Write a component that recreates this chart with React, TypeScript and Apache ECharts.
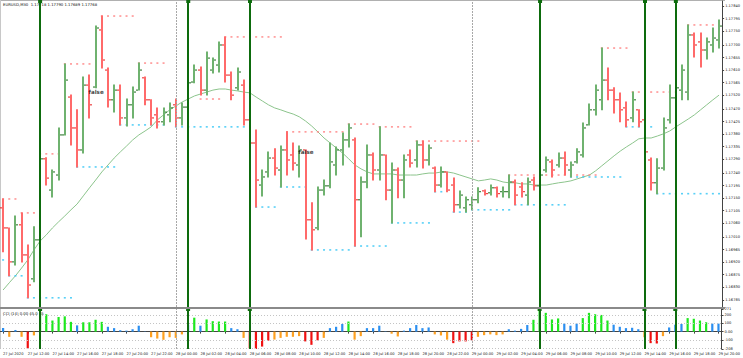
import React, { useEffect, useRef } from "react";
import * as echarts from "echarts";

// ---- data ----
const timeLabels = [
  "27 Jul 2020", "27 Jul 12:00", "27 Jul 14:00", "27 Jul 16:00", "27 Jul 18:00", "27 Jul 20:00", "27 Jul 22:00",
  "28 Jul 00:00", "28 Jul 02:00", "28 Jul 04:00", "28 Jul 06:00", "28 Jul 08:00", "28 Jul 10:00", "28 Jul 12:00",
  "28 Jul 14:00", "28 Jul 16:00", "28 Jul 18:00", "28 Jul 20:00", "28 Jul 22:00", "29 Jul 00:00", "29 Jul 02:00",
  "29 Jul 04:00", "29 Jul 06:00", "29 Jul 08:00", "29 Jul 10:00", "29 Jul 12:00", "29 Jul 14:00", "29 Jul 16:00",
  "29 Jul 18:00", "29 Jul 20:00",
];
const barsPerLabel = 4;

const open = [
  1.17115, 1.17043, 1.16921, 1.17054, 1.16946, 1.16860, 1.17000, 1.17291, 1.17179, 1.17233,
  1.17377, 1.17513, 1.17402, 1.17323, 1.17556, 1.17549, 1.17754, 1.17610, 1.17503, 1.17538,
  1.17438, 1.17485, 1.17538, 1.17582, 1.17503, 1.17449, 1.17424, 1.17449, 1.17485, 1.17438,
  1.17477, 1.17567, 1.17610, 1.17538, 1.17610, 1.17628, 1.17700, 1.17592, 1.17546, 1.17556,
  1.17431, 1.17348, 1.17197, 1.17244, 1.17294, 1.17251, 1.17323, 1.17305, 1.17269, 1.17323,
  1.17072, 1.17043, 1.17179, 1.17194, 1.17269, 1.17323, 1.17359, 1.17359, 1.17144, 1.17208,
  1.17305, 1.17251, 1.17305, 1.17179, 1.17251, 1.17215, 1.17305, 1.17287, 1.17341, 1.17287,
  1.17258, 1.17197, 1.17244, 1.17197, 1.17126, 1.17115, 1.17126, 1.17144, 1.17176, 1.17169,
  1.17187, 1.17173, 1.17173, 1.17208, 1.17190, 1.17161, 1.17215, 1.17194, 1.17251, 1.17280,
  1.17269, 1.17294, 1.17251, 1.17280, 1.17305, 1.17413, 1.17467, 1.17503, 1.17574, 1.17538,
  1.17503, 1.17474, 1.17438, 1.17467, 1.17431, 1.17287, 1.17205, 1.17258, 1.17431, 1.17510,
  1.17538, 1.17531, 1.17736, 1.17711, 1.17682, 1.17700, 1.17718,
];
const high = [
  1.17147, 1.17043, 1.17086, 1.17097, 1.16982, 1.17047, 1.17309, 1.17295, 1.17251, 1.17402,
  1.17632, 1.17520, 1.17467, 1.17585, 1.17592, 1.17768, 1.17804, 1.17617, 1.17556, 1.17556,
  1.17506, 1.17549, 1.17635, 1.17585, 1.17503, 1.17474, 1.17474, 1.17492, 1.17506, 1.17492,
  1.17574, 1.17628, 1.17621, 1.17675, 1.17653, 1.17711, 1.17729, 1.17603, 1.17617, 1.17574,
  1.17438, 1.17395, 1.17251, 1.17316, 1.17327, 1.17337, 1.17388, 1.17348, 1.17337, 1.17323,
  1.17133, 1.17190, 1.17215, 1.17348, 1.17334, 1.17384, 1.17416, 1.17366, 1.17226, 1.17341,
  1.17312, 1.17406, 1.17305, 1.17276, 1.17258, 1.17305, 1.17323, 1.17355, 1.17355, 1.17341,
  1.17262, 1.17262, 1.17244, 1.17222, 1.17176, 1.17154, 1.17154, 1.17187, 1.17179, 1.17197,
  1.17190, 1.17190, 1.17233, 1.17215, 1.17205, 1.17222, 1.17226, 1.17269, 1.17298, 1.17287,
  1.17312, 1.17316, 1.17280, 1.17327, 1.17420, 1.17488, 1.17556, 1.17689, 1.17617, 1.17546,
  1.17528, 1.17495, 1.17531, 1.17467, 1.17438, 1.17294, 1.17291, 1.17438, 1.17556, 1.17574,
  1.17628, 1.17772, 1.17743, 1.17743, 1.17725, 1.17761, 1.17790,
];
const low = [
  1.16957, 1.16871, 1.16910, 1.16921, 1.16792, 1.16850, 1.16982, 1.17197, 1.17154, 1.17215,
  1.17377, 1.17341, 1.17262, 1.17312, 1.17438, 1.17546, 1.17617, 1.17477, 1.17459, 1.17413,
  1.17409, 1.17438, 1.17538, 1.17485, 1.17413, 1.17402, 1.17413, 1.17424, 1.17406, 1.17413,
  1.17459, 1.17564, 1.17520, 1.17520, 1.17599, 1.17603, 1.17567, 1.17503, 1.17538, 1.17413,
  1.17262, 1.17118, 1.17158, 1.17226, 1.17233, 1.17190, 1.17233, 1.17251, 1.17226, 1.17003,
  1.16964, 1.17036, 1.17161, 1.17187, 1.17233, 1.17269, 1.17334, 1.16978, 1.17011, 1.17187,
  1.17215, 1.17215, 1.17144, 1.17061, 1.17151, 1.17151, 1.17262, 1.17262, 1.17258, 1.17269,
  1.17173, 1.17190, 1.17173, 1.17100, 1.17115, 1.17100, 1.17108, 1.17133, 1.17161, 1.17161,
  1.17154, 1.17154, 1.17151, 1.17126, 1.17154, 1.17126, 1.17179, 1.17179, 1.17244, 1.17226,
  1.17262, 1.17233, 1.17226, 1.17276, 1.17298, 1.17413, 1.17449, 1.17467, 1.17503, 1.17456,
  1.17424, 1.17406, 1.17424, 1.17406, 1.17269, 1.17179, 1.17166, 1.17251, 1.17420, 1.17485,
  1.17503, 1.17503, 1.17657, 1.17621, 1.17650, 1.17675, 1.17689,
];
const close = [
  1.17043, 1.16921, 1.17054, 1.16946, 1.16838, 1.17000, 1.17291, 1.17222, 1.17244, 1.17377,
  1.17574, 1.17402, 1.17323, 1.17556, 1.17485, 1.17761, 1.17646, 1.17503, 1.17538, 1.17438,
  1.17485, 1.17531, 1.17610, 1.17503, 1.17438, 1.17424, 1.17459, 1.17474, 1.17438, 1.17477,
  1.17564, 1.17610, 1.17538, 1.17653, 1.17646, 1.17700, 1.17592, 1.17520, 1.17603, 1.17431,
  1.17348, 1.17215, 1.17226, 1.17294, 1.17258, 1.17323, 1.17287, 1.17276, 1.17323, 1.17072,
  1.17036, 1.17179, 1.17194, 1.17280, 1.17323, 1.17359, 1.17402, 1.17144, 1.17208, 1.17305,
  1.17251, 1.17305, 1.17179, 1.17251, 1.17215, 1.17287, 1.17276, 1.17341, 1.17287, 1.17330,
  1.17197, 1.17244, 1.17179, 1.17126, 1.17161, 1.17144, 1.17144, 1.17173, 1.17166, 1.17187,
  1.17166, 1.17173, 1.17208, 1.17161, 1.17173, 1.17208, 1.17194, 1.17233, 1.17287, 1.17251,
  1.17294, 1.17269, 1.17269, 1.17316, 1.17402, 1.17467, 1.17538, 1.17574, 1.17538, 1.17503,
  1.17467, 1.17431, 1.17503, 1.17424, 1.17316, 1.17205, 1.17258, 1.17402, 1.17510, 1.17546,
  1.17610, 1.17736, 1.17700, 1.17682, 1.17711, 1.17725, 1.17768,
];
const movingAverage = [
  1.16820, 1.16846, 1.16871, 1.16899, 1.16928, 1.16964, 1.16996, 1.17018, 1.17043, 1.17065,
  1.17086, 1.17108, 1.17129, 1.17158, 1.17187, 1.17215, 1.17244, 1.17269, 1.17294, 1.17316,
  1.17337, 1.17359, 1.17377, 1.17391, 1.17406, 1.17431, 1.17449, 1.17467, 1.17481, 1.17495,
  1.17506, 1.17517, 1.17524, 1.17531, 1.17538, 1.17542, 1.17542, 1.17538, 1.17535, 1.17531,
  1.17528, 1.17513, 1.17499, 1.17485, 1.17474, 1.17467, 1.17459, 1.17452, 1.17442, 1.17427,
  1.17409, 1.17388, 1.17366, 1.17348, 1.17330, 1.17312, 1.17291, 1.17269, 1.17255, 1.17244,
  1.17237, 1.17237, 1.17237, 1.17237, 1.17233, 1.17233, 1.17233, 1.17233, 1.17237, 1.17240,
  1.17240, 1.17244, 1.17244, 1.17240, 1.17233, 1.17226, 1.17219, 1.17212, 1.17215, 1.17219,
  1.17215, 1.17208, 1.17205, 1.17205, 1.17201, 1.17201, 1.17197, 1.17197, 1.17197, 1.17201,
  1.17205, 1.17208, 1.17212, 1.17219, 1.17226, 1.17233, 1.17248, 1.17266, 1.17284, 1.17302,
  1.17319, 1.17334, 1.17348, 1.17363, 1.17366, 1.17366, 1.17373, 1.17381, 1.17391, 1.17406,
  1.17420, 1.17434, 1.17449, 1.17467, 1.17485, 1.17503, 1.17520,
];
const cci = [
  42, -62, 20, -62, -200, -45, 216, 208, 133, 175,
  183, 117, 75, 112, 112, 142, 117, 58, 42, 17,
  12, 29, 71, 3, -67, -83, -98, -67, -75, -33,
  83, 167, 71, 146, 125, 121, 121, 42, 29, -75,
  -200, -208, -179, -108, -95, -75, -62, -62, -54, -117,
  -158, -104, -75, 42, 58, 92, 121, -96, -54, 42,
  42, 71, 4, -25, -58, 12, 42, 79, 42, 50,
  -33, -46, -96, -138, -117, -117, -104, -62, -42, -33,
  -42, -33, 29, 12, 33, 79, 142, 271, 225, 146,
  158, 96, 71, 96, 162, 225, 208, 200, 133, 83,
  58, 42, 46, 29, -67, -138, -142, -54, 50, 83,
  92, 162, 154, 133, 112, 96, 96,
];
const priceTicks = [
  1.16785, 1.16830, 1.16875, 1.16920, 1.16965, 1.17010, 1.17060, 1.17105, 1.17150, 1.17195,
  1.17240, 1.17290, 1.17335, 1.17380, 1.17425, 1.17470, 1.17520, 1.17565, 1.17610, 1.17655,
  1.17700, 1.17750, 1.17795, 1.17840,
];
const cciTicks = [-208, -100, 0, 100, 200, 271];
const cciLevels = [200, 100, -100, -200];
// [first bar, last bar, price]
const resistanceLevels = [
  [0, 2, 1.17147], [3, 5, 1.17097], [6, 9, 1.17309], [10, 14, 1.17632], [16, 21, 1.17804],
  [22, 26, 1.17635], [32, 35, 1.17506], [36, 45, 1.17729], [46, 55, 1.17388], [56, 60, 1.17416],
  [61, 66, 1.17406], [67, 77, 1.17355], [82, 96, 1.17233], [97, 101, 1.17689], [102, 110, 1.17531],
  [111, 116, 1.17772],
];
const supportLevels = [
  [0, 0, 1.16928], [1, 3, 1.16871], [4, 11, 1.16792], [12, 18, 1.17262], [19, 26, 1.17413],
  [28, 39, 1.17406], [41, 44, 1.17118], [45, 49, 1.17190], [50, 56, 1.16964], [57, 62, 1.16978],
  [63, 69, 1.17061], [70, 71, 1.17173], [73, 75, 1.17100], [76, 82, 1.17108], [83, 91, 1.17126],
  [92, 100, 1.17226], [101, 105, 1.17406], [106, 116, 1.17166],
];
const signalBars = [6, 30, 40, 87, 104, 109];
const daySeparators = [28, 76];
const falseMarks = [[14, 1.17531], [48, 1.17316]];
const headerText = "EURUSD,M30  1.17718 1.17790 1.17689 1.17768";
const cciText = "CCI (14) 0.00 45.0 45";

// ---- styles ----
const BULL = "#6fb26f";
const BULL_TICK = "#1c6b1c";
const BEAR = "#ff6a6a";
const BEAR_TICK = "#e81c1c";
const SIGNAL = "#0d6b0d";

function cciColor(v: number) {
  if (v >= 100) return "#1ee81e";
  if (v >= 0) return "#2b8ff0";
  if (v > -100) return "#ffa020";
  return "#f01010";
}

export default function App() {
  const ref = useRef<HTMLDivElement>(null);
  useEffect(() => {
    if (!ref.current) return;
    const chart = echarts.init(ref.current, null, { renderer: "svg" });
    const cats = close.map((_, i) => String(i));
    const ohlc = close.map((c, i) => [i, open[i], c, low[i], high[i]]);
    const resDots: number[][] = [];
    resistanceLevels.forEach(([a, b, p]) => { for (let i = a; i <= b; i++) resDots.push([i, p]); });
    const supDots: number[][] = [];
    supportLevels.forEach(([a, b, p]) => { for (let i = a; i <= b; i++) supDots.push([i, p]); });

    const gridLeft = -1.3;
    const gridRight = 18.5;
    const signalMarkLine = {
      silent: true, animation: false, label: { show: false },
      symbol: ["none", "rect"], symbolSize: [4, 4],
      lineStyle: { color: SIGNAL, width: 2, type: "solid" },
      itemStyle: { color: SIGNAL },
      data: signalBars.map((i) => ({ xAxis: i })),
    };
    const dayMarkLine = {
      silent: true, animation: false, label: { show: false },
      symbol: ["none", "none"],
      lineStyle: { color: "#a8a8a8", width: 1, type: [2, 1] },
      data: daySeparators.map((i) => ({ xAxis: i })),
    };

    const option: any = {
      animation: false,
      backgroundColor: "#ffffff",
      grid: [
        { left: gridLeft, right: gridRight, top: 1, bottom: 51 },
        { left: gridLeft, right: gridRight, top: 309, bottom: 9 },
      ],
      xAxis: [
        { type: "category", gridIndex: 0, data: cats, boundaryGap: true, show: false },
        {
          type: "category", gridIndex: 1, data: cats, boundaryGap: true,
          axisLine: { show: true, lineStyle: { color: "#444", width: 1 } },
          axisTick: { show: true, alignWithLabel: true, length: 2, interval: (idx: number) => idx % barsPerLabel === 0, lineStyle: { color: "#444" } },
          axisLabel: {
            show: true, interval: (idx: number) => idx % barsPerLabel === 0,
            formatter: (v: string) => timeLabels[Number(v) / barsPerLabel] ?? "",
            fontSize: 3.6, color: "#111", align: "left", margin: 2.5, fontFamily: "DejaVu Sans",
          },
          splitLine: { show: false },
        },
      ],
      yAxis: [
        {
          type: "value", gridIndex: 0, position: "right", min: 1.16759, max: 1.17858, scale: true,
          axisLine: { show: true, lineStyle: { color: "#444", width: 1 } },
          axisTick: { show: true, customValues: priceTicks, length: 2, lineStyle: { color: "#444" } },
          axisLabel: { customValues: priceTicks, formatter: (v: number) => v.toFixed(5), fontSize: 3.6, color: "#111", margin: 3, fontFamily: "DejaVu Sans" },
          splitLine: { show: false },
        },
        {
          type: "value", gridIndex: 1, position: "right", min: -208, max: 271,
          axisLine: { show: true, lineStyle: { color: "#444", width: 1 } },
          axisTick: { show: true, customValues: cciTicks, length: 2, lineStyle: { color: "#444" } },
          axisLabel: { customValues: cciTicks, formatter: (v: number) => (v === 0 ? "0.00" : String(v)), fontSize: 3.6, color: "#111", margin: 3, fontFamily: "DejaVu Sans" },
          splitLine: { show: false },
        },
      ],
      series: [
        {
          type: "line", xAxisIndex: 0, yAxisIndex: 0, data: movingAverage, symbol: "none", z: 2,
          lineStyle: { color: "#8cc48c", width: 1 }, silent: true,
          markLine: signalMarkLine,
        },
        {
          type: "scatter", xAxisIndex: 0, yAxisIndex: 0, data: resDots, symbol: "rect", symbolSize: [2, 1.6],
          itemStyle: { color: "#ff7a7a" }, z: 3, silent: true,
          markLine: dayMarkLine,
        },
        {
          type: "scatter", xAxisIndex: 0, yAxisIndex: 0, data: supDots, symbol: "rect", symbolSize: [2, 1.6],
          itemStyle: { color: "#2ec4f5" }, z: 3, silent: true,
        },
        {
          type: "custom", xAxisIndex: 0, yAxisIndex: 0, data: ohlc, z: 4, silent: true,
          encode: { x: 0, y: [1, 2, 3, 4] },
          renderItem: (params: any, api: any) => {
            const i = api.value(0);
            const o = api.value(1), c = api.value(2), l = api.value(3), h = api.value(4);
            const pH = api.coord([i, h]);
            const pL = api.coord([i, l]);
            const pO = api.coord([i, o]);
            const pC = api.coord([i, c]);
            const up = c >= o;
            const x = Math.round(pH[0]);
            const body = up ? BULL : BEAR;
            const tick = up ? BULL_TICK : BEAR_TICK;
            return {
              type: "group",
              children: [
                { type: "line", shape: { x1: x, y1: pH[1] - 0.5, x2: x, y2: pL[1] + 0.5 }, style: { stroke: body, lineWidth: 2 } },
                { type: "line", shape: { x1: x - 3, y1: pO[1], x2: x - 1, y2: pO[1] }, style: { stroke: tick, lineWidth: 1 } },
                { type: "line", shape: { x1: x + 1, y1: pC[1], x2: x + 3, y2: pC[1] }, style: { stroke: tick, lineWidth: 1 } },
              ],
            };
          },
        },
        {
          type: "scatter", xAxisIndex: 0, yAxisIndex: 0, data: falseMarks, symbolSize: 0, z: 6, silent: true,
          label: { show: true, position: "right", distance: -1, formatter: "false", fontSize: 5.6, fontWeight: "bold", color: "#111", fontFamily: "DejaVu Sans" },
        },
        {
          type: "bar", xAxisIndex: 1, yAxisIndex: 1, data: cci, barWidth: 2.2, z: 3, silent: true,
          itemStyle: { color: (p: any) => cciColor(p.value) },
          markLine: {
            silent: true, animation: false, label: { show: false }, symbol: ["none", "none"],
            lineStyle: { color: "#c4c4c4", width: 1, type: [1, 2] },
            data: cciLevels.map((v) => ({ yAxis: v })),
          },
        },
        {
          type: "line", xAxisIndex: 1, yAxisIndex: 1, data: [], symbol: "none", z: 2, silent: true,
          markLine: signalMarkLine,
        },
        {
          type: "line", xAxisIndex: 1, yAxisIndex: 1, data: [], symbol: "none", z: 2, silent: true,
          markLine: dayMarkLine,
        },
      ],
      graphic: [
        { type: "rect", shape: { x: 0, y: 0, width: 725, height: 1 }, style: { fill: "#b0b0b0" }, silent: true },
        { type: "rect", shape: { x: 0, y: 0, width: 1, height: 349 }, style: { fill: "#c8c8c8" }, silent: true },
        { type: "rect", shape: { x: 0, y: 307, width: 725, height: 2 }, style: { fill: "#8a8a8a" }, silent: true, z: 10 },
        { type: "text", left: 3, top: 2, style: { text: headerText, fontSize: 3.8, fill: "#111", fontFamily: "DejaVu Sans" }, silent: true },
        { type: "text", left: 3, top: 311, style: { text: cciText, fontSize: 3.8, fill: "#111", fontFamily: "DejaVu Sans" }, silent: true },
      ],
    };
    chart.setOption(option);
    return () => chart.dispose();
  }, []);
  return <div ref={ref} style={{ position: "fixed", left: 0, top: 0, width: 743, height: 358, background: "#fff" }} />;
}
